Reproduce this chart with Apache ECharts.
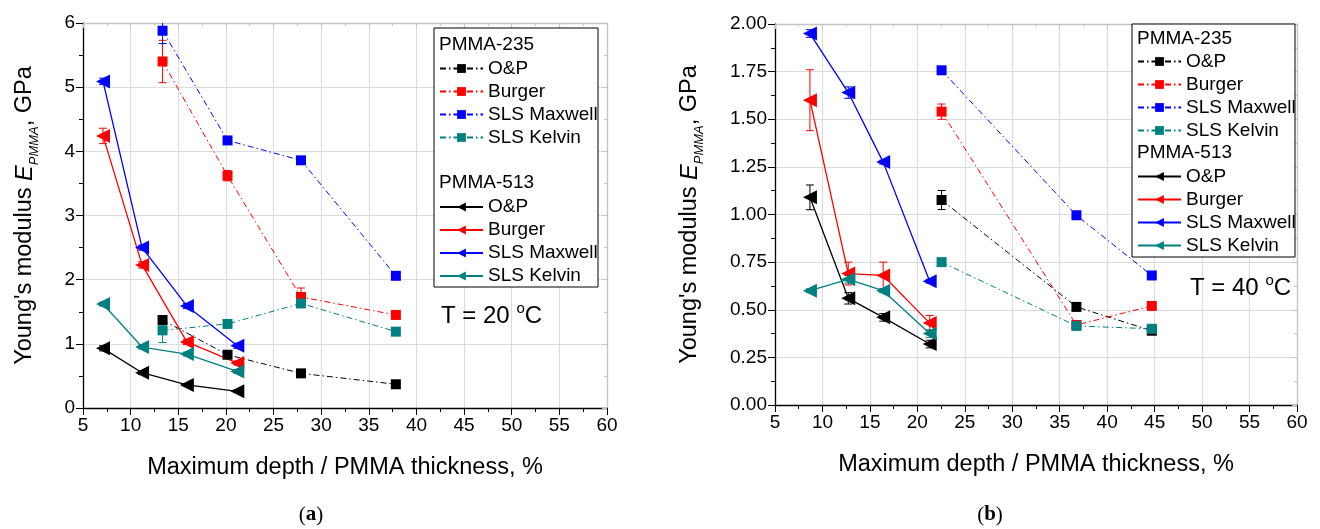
<!DOCTYPE html>
<html><head><meta charset="utf-8">
<script src="https://cdn.jsdelivr.net/npm/echarts@6/dist/echarts.min.js"></script>
<style>html,body{margin:0;padding:0;background:#fff}#c{width:1320px;height:529px}</style>
</head><body><div id="c"></div>
<script>
// ---------- data ----------
const methods = ['O&P', 'Burger', 'SLS Maxwell', 'SLS Kelvin'];
const colors = ['#000000', '#ff0000', '#0000ff', '#008080'];

// Panel (a) T = 20 °C
const a235X = [13.35, 20.17, 27.88, 37.84];
const a235OP = [1.37, 0.83, 0.54, 0.37];
const a235Burger = [5.40, 3.62, 1.73, 1.45];
const a235Maxwell = [5.88, 4.17, 3.86, 2.06];
const a235Kelvin = [1.21, 1.31, 1.63, 1.19];
const a235OPErr = [0.07, 0.03, 0, 0];
const a235BurgerErr = [0.33, 0.08, 0.14, 0];
const a235MaxwellErr = [0.2, 0.04, 0, 0];
const a235KelvinErr = [0.19, 0, 0.04, 0];

const a513X = [7.1, 11.2, 15.9, 21.2];
const a513OP = [0.93, 0.55, 0.36, 0.26];
const a513Burger = [4.24, 2.23, 1.03, 0.70];
const a513Maxwell = [5.09, 2.50, 1.59, 0.97];
const a513Kelvin = [1.62, 0.95, 0.84, 0.57];
const a513OPErr = [0.04, 0.03, 0.02, 0.02];
const a513BurgerErr = [0.12, 0.05, 0.04, 0.03];
const a513MaxwellErr = [0.05, 0.04, 0.04, 0.04];
const a513KelvinErr = [0.03, 0.03, 0.03, 0.03];

// Panel (b) T = 40 °C
const b235X = [22.55, 36.76, 44.7];
const b235OP = [1.076, 0.515, 0.39];
const b235Burger = [1.54, 0.42, 0.52];
const b235Maxwell = [1.757, 0.996, 0.68];
const b235Kelvin = [0.75, 0.415, 0.40];
const b235OPErr = [0.05, 0.02, 0.01];
const b235BurgerErr = [0.04, 0.01, 0.01];
const b235MaxwellErr = [0.02, 0.01, 0.01];
const b235KelvinErr = [0.01, 0.01, 0.01];

const b513X = [8.68, 12.72, 16.4, 21.3];
const b513OP = [1.09, 0.56, 0.46, 0.32];
const b513Burger = [1.60, 0.69, 0.68, 0.43];
const b513Maxwell = [1.95, 1.64, 1.275, 0.65];
const b513Kelvin = [0.60, 0.66, 0.60, 0.375];
const b513OPErr = [0.065, 0.03, 0.02, 0.02];
const b513BurgerErr = [0.16, 0.06, 0.07, 0.04];
const b513MaxwellErr = [0.02, 0.03, 0.01, 0.01];
const b513KelvinErr = [0.01, 0.02, 0.01, 0.02];

const xTicks = {min: 5, max: 60, interval: 5};
const yTicksA = {min: 0, max: 6, interval: 1};
const yTicksB = {min: 0, max: 2, interval: 0.25};

// ---------- build ----------
const FONT = 'Liberation Sans, Arial, sans-serif';
const DASHDOT = [6, 3, 1.5, 3];

const panels = [
  {key: 'a', g: 0,
   g235: {x: a235X, ys: [a235OP, a235Burger, a235Maxwell, a235Kelvin], es: [a235OPErr, a235BurgerErr, a235MaxwellErr, a235KelvinErr]},
   g513: {x: a513X, ys: [a513OP, a513Burger, a513Maxwell, a513Kelvin], es: [a513OPErr, a513BurgerErr, a513MaxwellErr, a513KelvinErr]}},
  {key: 'b', g: 1,
   g235: {x: b235X, ys: [b235OP, b235Burger, b235Maxwell, b235Kelvin], es: [b235OPErr, b235BurgerErr, b235MaxwellErr, b235KelvinErr]},
   g513: {x: b513X, ys: [b513OP, b513Burger, b513Maxwell, b513Kelvin], es: [b513OPErr, b513BurgerErr, b513MaxwellErr, b513KelvinErr]}}
];

function errRender(color) {
  return function (params, api) {
    const x = api.value(0), y = api.value(1), e = api.value(2);
    if (!e) return null;
    const cs = params.coordSys;
    const p1 = api.coord([x, y + e]);
    const p2 = api.coord([x, y - e]);
    const top = Math.max(p1[1], cs.y), bot = Math.min(p2[1], cs.y + cs.height);
    const st = {stroke: color, lineWidth: 1};
    const w = 4;
    const ch = [{type: 'line', shape: {x1: p1[0], y1: top, x2: p1[0], y2: bot}, style: st}];
    if (p1[1] >= cs.y) ch.push({type: 'line', shape: {x1: p1[0] - w, y1: p1[1], x2: p1[0] + w, y2: p1[1]}, style: st});
    if (p2[1] <= cs.y + cs.height) ch.push({type: 'line', shape: {x1: p1[0] - w, y1: p2[1], x2: p1[0] + w, y2: p2[1]}, style: st});
    return {type: 'group', children: ch};
  };
}

const series = [];
const legendNames = {};
panels.forEach(p => {
  [['235', p.g235], ['513', p.g513]].forEach(([grp, d]) => {
    legendNames[p.key + grp] = [];
    methods.forEach((m, i) => {
      const name = p.key + '|' + grp + '|' + m;
      legendNames[p.key + grp].push(name);
      const is235 = grp === '235';
      series.push({
        name, type: 'line', xAxisIndex: p.g * 2, yAxisIndex: p.g * 2,
        data: d.x.map((x, k) => [x, d.ys[i][k]]),
        symbol: is235 ? 'rect' : 'triangle',
        symbolSize: is235 ? 10 : 14,
        symbolRotate: is235 ? 0 : 90,
        showSymbol: true, animation: false,
        itemStyle: {color: colors[i]},
        lineStyle: {color: colors[i], width: is235 ? 1 : 1.3, type: is235 ? DASHDOT : 'solid'},
        z: 3
      });
      series.push({
        type: 'custom', xAxisIndex: p.g * 2, yAxisIndex: p.g * 2,
        data: d.x.map((x, k) => [x, d.ys[i][k], d.es[i][k]]),
        encode: {x: 0, y: 1},
        renderItem: errRender(colors[i]), silent: true, animation: false, z: 3
      });
    });
  });
});

const gridColor = '#dcdcdc';
const frameColor = '#c4c4c4';
function mainX(g) {
  return {gridIndex: g, type: 'value', ...xTicks, position: 'bottom',
    axisLine: {show: true, onZero: false, lineStyle: {color: '#000', width: 1.3}},
    axisTick: {show: true, inside: false, length: 7, lineStyle: {color: '#000'}},
    minorTick: {show: true, splitNumber: 2, length: 4, lineStyle: {color: '#000'}},
    splitLine: {show: true, lineStyle: {color: gridColor, width: 1.2}},
    axisLabel: {fontSize: 19, color: '#000', fontFamily: FONT, margin: 8},
    name: 'Maximum depth / PMMA thickness, %', nameLocation: 'middle', nameGap: 48,
    nameTextStyle: {fontSize: 23.5, color: '#000', fontFamily: FONT}};
}
function frameX(g) {
  return {gridIndex: g, type: 'value', ...xTicks, position: 'top',
    axisLine: {show: true, onZero: false, lineStyle: {color: frameColor, width: 1.3}},
    axisTick: {show: true, inside: true, length: 5, lineStyle: {color: frameColor}},
    minorTick: {show: true, splitNumber: 2, length: 3, lineStyle: {color: frameColor}},
    splitLine: {show: false}, axisLabel: {show: false}};
}
const yName = '{n|Young\'s modulus }{e|E}{s|PMMA}{n|, GPa}';
const yRich = {
  n: {fontSize: 23.5, fontFamily: FONT, color: '#000', lineHeight: 32},
  e: {fontSize: 23.5, fontFamily: FONT, color: '#000', fontStyle: 'italic', lineHeight: 32},
  s: {fontSize: 13, fontFamily: FONT, color: '#000', fontStyle: 'italic', lineHeight: 14, verticalAlign: 'bottom', height: 14}
};
function mainY(g, ticks, gap, fmt) {
  return {gridIndex: g, type: 'value', ...ticks, position: 'left',
    axisLine: {show: true, onZero: false, lineStyle: {color: '#000', width: 1.3}},
    axisTick: {show: true, inside: false, length: 7, lineStyle: {color: '#000'}},
    minorTick: {show: true, splitNumber: 2, length: 4, lineStyle: {color: '#000'}},
    splitLine: {show: true, lineStyle: {color: gridColor, width: 1.2}},
    axisLabel: {fontSize: 19, color: '#000', fontFamily: FONT, margin: 8, formatter: fmt},
    name: yName, nameLocation: 'middle', nameGap: gap, nameRotate: 90,
    nameTextStyle: {rich: yRich}};
}
function frameY(g, ticks) {
  return {gridIndex: g, type: 'value', ...ticks, position: 'right',
    axisLine: {show: true, onZero: false, lineStyle: {color: frameColor, width: 1.3}},
    axisTick: {show: true, inside: true, length: 5, lineStyle: {color: frameColor}},
    minorTick: {show: true, splitNumber: 2, length: 3, lineStyle: {color: frameColor}},
    splitLine: {show: false}, axisLabel: {show: false}};
}

function mkLegend(names, left, top) {
  return {data: names, orient: 'vertical', left, top, itemWidth: 43, itemHeight: 11, itemGap: 0, padding: 0,
    selectedMode: false, z: 6,
    textStyle: {fontSize: 19, color: '#000', fontFamily: FONT, lineHeight: 23},
    formatter: n => n.split('|').pop()};
}

function txt(text, x, y, size, extra) {
  return Object.assign({type: 'text', x, y, z: 7,
    style: {text, font: size + 'px ' + FONT, fill: '#000', align: 'left', verticalAlign: 'middle',
      textAlign: 'left', textVerticalAlign: 'middle'}}, extra || {});
}
function tempText(t, x, y) {
  return {type: 'text', x, y, z: 7,
    style: {text: '{m|T = ' + t + ' }{o|o}{m|C}', align: 'left', verticalAlign: 'middle',
      rich: {m: {fontSize: 24, fontFamily: FONT, fill: '#000', color: '#000', lineHeight: 30},
             o: {fontSize: 15, fontFamily: FONT, fill: '#000', color: '#000', verticalAlign: 'top', lineHeight: 15, height: 15}}}};
}
function caption(l, x, y) {
  return {type: 'text', x, y, z: 7,
    style: {text: '{p|(}{b|' + l + '}{p|)}', align: 'center', verticalAlign: 'middle',
      rich: {p: {fontSize: 21, fontFamily: 'Liberation Serif, serif', color: '#000', fill: '#000'},
             b: {fontSize: 21, fontFamily: 'Liberation Serif, serif', fontWeight: 'bold', color: '#000', fill: '#000'}}}};
}

const option = {
  backgroundColor: '#fff',
  animation: false,
  grid: [
    {left: 83, top: 23, width: 524, height: 385},
    {left: 775, top: 24, width: 522, height: 381}
  ],
  xAxis: [mainX(0), frameX(0), mainX(1), frameX(1)],
  yAxis: [mainY(0, yTicksA, 42, v => String(v)), frameY(0, yTicksA),
          mainY(1, yTicksB, 69, v => v.toFixed(2)), frameY(1, yTicksB)],
  legend: [
    mkLegend(legendNames['a235'], 439, 57),
    mkLegend(legendNames['a513'], 439, 195.5),
    mkLegend(legendNames['b235'], 1137, 50),
    mkLegend(legendNames['b513'], 1137, 165)
  ],
  graphic: {elements: [
    {type: 'rect', shape: {x: 434, y: 28, width: 164, height: 259}, style: {fill: '#fff', stroke: '#000', lineWidth: 1}, z: 5},
    {type: 'rect', shape: {x: 1132, y: 24, width: 163, height: 233}, style: {fill: '#fff', stroke: '#000', lineWidth: 1}, z: 5},
    txt('PMMA-235', 439, 45, 19),
    txt('PMMA-513', 439, 183, 19),
    txt('PMMA-235', 1137, 39, 19),
    txt('PMMA-513', 1137, 153, 19),
    tempText('20', 441, 316),
    tempText('40', 1190, 288),
    caption('a', 311, 515),
    caption('b', 990, 515)
  ]},
  series
};
const chart = echarts.init(document.getElementById('c'), null, {renderer: 'canvas'});
chart.setOption(option);
</script>
</body></html>
